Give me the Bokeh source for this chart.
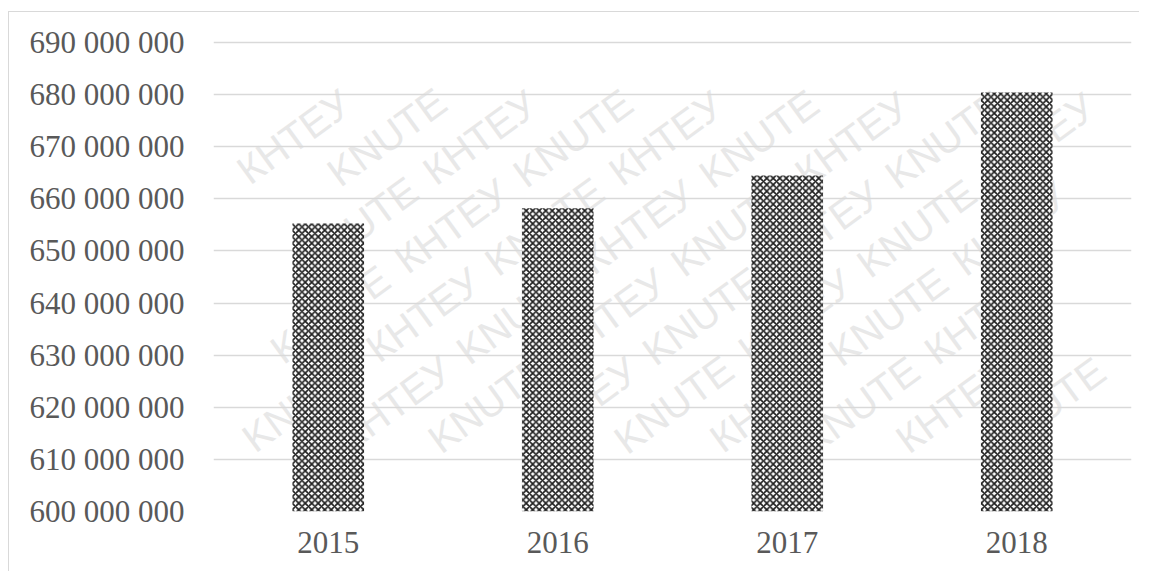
import math
from bokeh.plotting import figure
from bokeh.models import Range1d, FixedTicker, Label, FactorRange
from bokeh.embed import file_html
from bokeh.resources import INLINE

years = ["2015", "2016", "2017", "2018"]
values = [655_300_000, 658_200_000, 664_500_000, 680_400_000]
tick_values = [600_000_000, 610_000_000, 620_000_000, 630_000_000, 640_000_000,
               650_000_000, 660_000_000, 670_000_000, 680_000_000, 690_000_000]
tick_labels = ["600 000 000", "610 000 000", "620 000 000", "630 000 000", "640 000 000",
               "650 000 000", "660 000 000", "670 000 000", "680 000 000", "690 000 000"]
watermark_words = ["KNUTE", "КНТЕУ"]

FRAME_W, FRAME_H = 918, 471
p = figure(x_range=FactorRange(*years, range_padding=0),
           y_range=Range1d(tick_values[0], 690_400_000),
           frame_width=FRAME_W, frame_height=FRAME_H,
           output_backend="svg", toolbar_location=None,
           min_border_left=204, min_border_right=8, min_border_top=28, min_border_bottom=60)
p.styles = {"border-left": "1px solid #d9d9d9", "border-top": "1px solid #d9d9d9",
            "margin-left": "8px", "margin-top": "11px"}
p.outline_line_color = None

# decorative watermark: individual words on a rotated lattice, kept inside the frame
ang = math.radians(36)
ux, uy = math.cos(ang), math.sin(ang)
vx, vy = -math.sin(ang), math.cos(ang)
step_u, step_v = 150, 55
font_px = 40
half_len, half_h = 68, 16
ex = abs(half_len * ux) + abs(half_h * vx)
ey = abs(half_len * uy) + abs(half_h * vy)
for j in range(-25, 26):
    for i in range(-25, 26):
        cx = 60 + i * step_u * ux + j * step_v * vx + j * 75 * ux
        cy = 20 + i * step_u * uy + j * step_v * vy + j * 75 * uy
        if cx - ex < 2 or cx + ex > FRAME_W - 2 or cy - ey < 2 or cy + ey > FRAME_H - 2:
            continue
        p.add_layout(Label(x=cx, y=cy, x_units="screen", y_units="screen",
                           text=watermark_words[i % 2], angle=ang,
                           text_font="Liberation Sans", text_font_size=f"{font_px}px",
                           text_color="#e8e8e8", text_align="center",
                           text_baseline="middle", level="image"))

p.vbar(x=years, top=values, bottom=tick_values[0], width=0.312,
       fill_color="white", line_color=None,
       hatch_pattern="diagonal_cross", hatch_color="#1e1e1e", hatch_scale=6.5, hatch_weight=1.7)

p.xgrid.grid_line_color = None
p.ygrid.grid_line_color = "#d9d9d9"
p.ygrid.grid_line_width = 1.3

for ax in (p.xaxis[0], p.yaxis[0]):
    ax.axis_line_color = None
    ax.major_tick_line_color = None
    ax.minor_tick_line_color = None
    ax.major_tick_out = 0
    ax.major_tick_in = 0
    ax.major_label_text_font = "Liberation Serif"
    ax.major_label_text_font_size = "31px"
    ax.major_label_text_color = "#595959"

p.yaxis.ticker = FixedTicker(ticks=tick_values)
p.yaxis.major_label_overrides = {v: s for v, s in zip(tick_values, tick_labels)}
p.yaxis.major_label_standoff = 29
p.xaxis.major_label_standoff = 20

open("out.html", "w").write(file_html(p, INLINE))
